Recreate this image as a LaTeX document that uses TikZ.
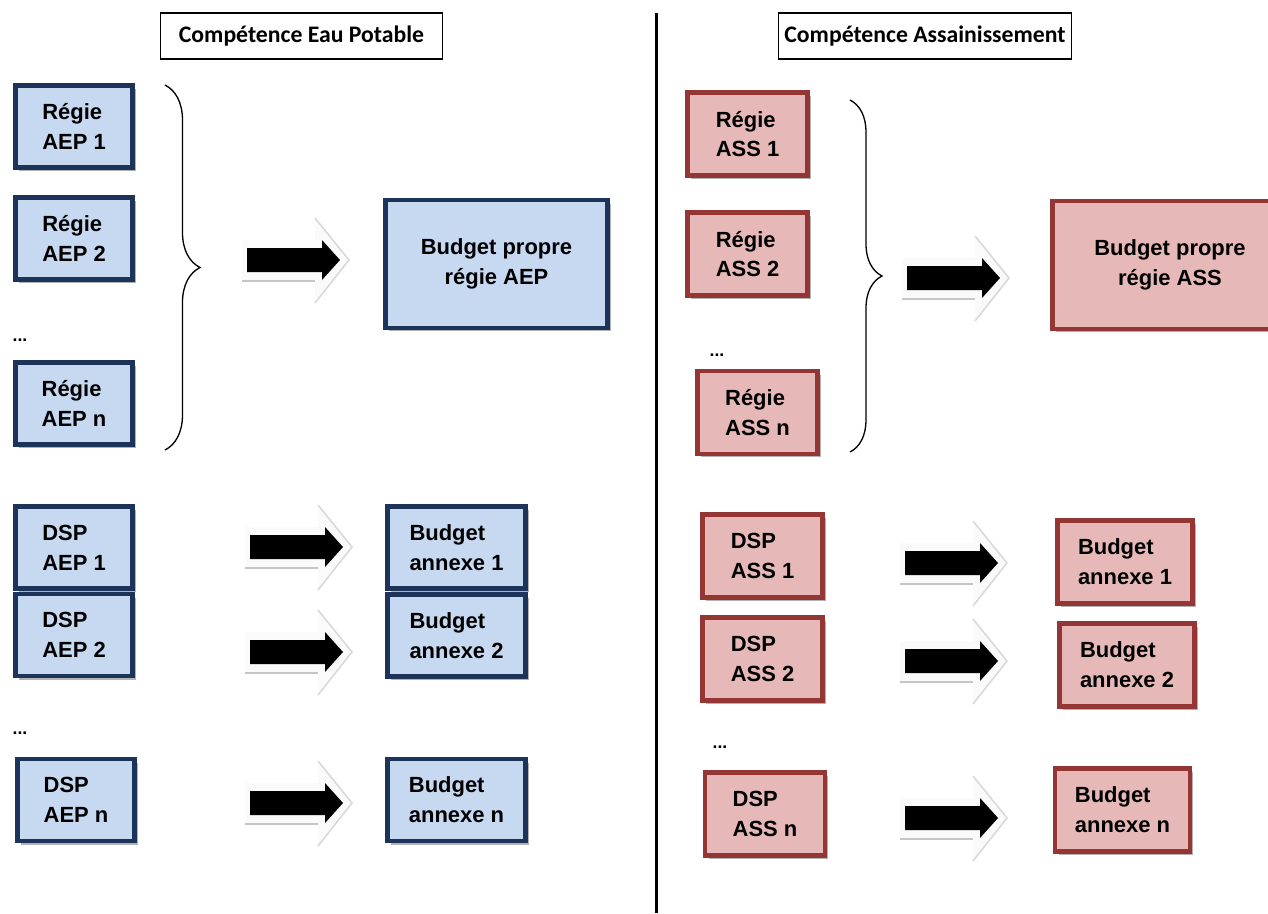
\documentclass[tikz,border=0pt]{standalone}
\usepackage{fontspec}
\setmainfont{Liberation Sans}
\newfontfamily\titrefont{Carlito}
\usetikzlibrary{shadows,decorations.pathreplacing}

\definecolor{bleufond}{RGB}{198,217,241}
\definecolor{bleubord}{RGB}{28,52,89}
\definecolor{rosefond}{RGB}{230,185,184}
\definecolor{rougebord}{RGB}{148,54,52}

% fleche noire avec son ombre claire (queue en x, milieu en y)
\newcommand{\fleche}[2]{%
  \fill[gray!4]
    (#1-5,#2-20) -- (#1+68,#2-20) -- (#1+68,#2-42) -- (#1+102,#2)
    -- (#1+68,#2+43) -- (#1+68,#2+22) -- (#1-5,#2+22) -- cycle;
  \draw[gray!30, line width=0.9pt] (#1+68,#2-42) -- (#1+102,#2) -- (#1+68,#2+43);
  \draw[gray!45, line width=1.6pt] (#1-5,#2+21) -- (#1+68,#2+21);
  \fill[black] (#1,#2-12) -- (#1+75,#2-12) -- (#1+75,#2-20) -- (#1+93,#2)
    -- (#1+75,#2+20) -- (#1+75,#2+12) -- (#1,#2+12) -- cycle;}

\begin{document}
\begin{tikzpicture}[x=0.02cm, y=-0.02cm,
            titre/.style={rectangle, draw=black, line width=0.8pt, fill=white, minimum width=5.64cm, minimum height=0.92cm, font=\titrefont\fontsize{13.5}{15}\selectfont\bfseries},
            boite/.style={rectangle, line width=2.8pt, align=left, inner sep=0pt, font=\fontsize{12.5}{17}\selectfont\bfseries, drop shadow={shadow xshift=0.07cm, shadow yshift=-0.07cm, opacity=0.55, fill=black!55}},
            aep/.style={boite, draw=bleubord, fill=bleufond},
            ass/.style={boite, draw=rougebord, fill=rosefond},
            petitbleu/.style={minimum width=2.34cm, minimum height=1.64cm},
            petitrose/.style={minimum width=2.4cm, minimum height=1.66cm},
            annexebleu/.style={minimum width=2.76cm, minimum height=1.64cm},
            annexerose/.style={minimum width=2.7cm, minimum height=1.66cm},
            propre/.style={align=center, minimum width=4.44cm, minimum height=2.56cm},
            points/.style={font=\fontsize{10}{12}\selectfont\bfseries, inner sep=0pt},
            accolade/.style={decorate, decoration={brace, amplitude=#1}, line width=0.75pt},
        ]
        \path[use as bounding box, clip] (0,0) rectangle (1268,913);

        \node[titre] (tea) at (301.5,36) {Compétence Eau Potable};
        \node[titre] (tas) at (925,36) {Compétence Assainissement};
        \draw[line width=1.7pt] (656,13) -- (656,913);

        % eau potable
        \node[aep, petitbleu] (ra1) at (74,126.5) {Régie\\AEP 1};
        \node[aep, petitbleu] (ra2) at (74,238.5) {Régie\\AEP 2};
        \node[points] (pa1) at (20,340) {...};
        \node[aep, petitbleu] (ran) at (74,403.5) {Régie\\AEP n};
        \node[aep, propre] (bpa) at (496.5,264) {Budget propre\\régie AEP};
        \draw[accolade=0.7cm] (165,85) -- (165,450);
        \fleche{247}{260}

        \node[aep, petitbleu] (da1) at (74,547.5) {DSP\\AEP 1};
        \node[aep, petitbleu] (da2) at (74,635) {DSP\\AEP 2};
        \node[points] (pa2) at (20,733) {...};
        \node[aep, petitbleu] (dan) at (76,800) {DSP\\AEP n};
        \node[aep, annexebleu] (ba1) at (456.5,547.5) {Budget\\annexe 1};
        \node[aep, annexebleu] (ba2) at (456.5,635.5) {Budget\\annexe 2};
        \node[aep, annexebleu] (ban) at (456.5,800) {Budget\\annexe n};
        \fleche{250}{547}
        \fleche{250}{652}
        \fleche{250}{803}

        % assainissement
        \node[ass, petitrose] (rs1) at (747.5,134) {Régie\\ASS 1};
        \node[ass, petitrose] (rs2) at (747.5,254) {Régie\\ASS 2};
        \node[points] (ps1) at (717,355) {...};
        \node[ass, petitrose] (rsn) at (757.5,412.5) {Régie\\ASS n};
        \node[ass, propre, minimum width=4.7cm] (bps) at (1170,265) {Budget propre\\régie ASS};
        \draw[accolade=0.64cm] (850,100) -- (850,452);
        \fleche{907}{278}

        \node[ass, petitrose] (ds1) at (762.5,556) {DSP\\ASS 1};
        \node[ass, petitrose] (ds2) at (762.5,659) {DSP\\ASS 2};
        \node[points] (ps2) at (720,747) {...};
        \node[ass, petitrose] (dsn) at (765,814) {DSP\\ASS n};
        \node[ass, annexerose] (bs1) at (1125,562) {Budget\\annexe 1};
        \node[ass, annexerose] (bs2) at (1127,665) {Budget\\annexe 2};
        \node[ass, annexerose] (bsn) at (1122.5,810) {Budget\\annexe n};
        \fleche{905}{563}
        \fleche{905}{661}
        \fleche{905}{818}

    \end{tikzpicture}
\end{document}
